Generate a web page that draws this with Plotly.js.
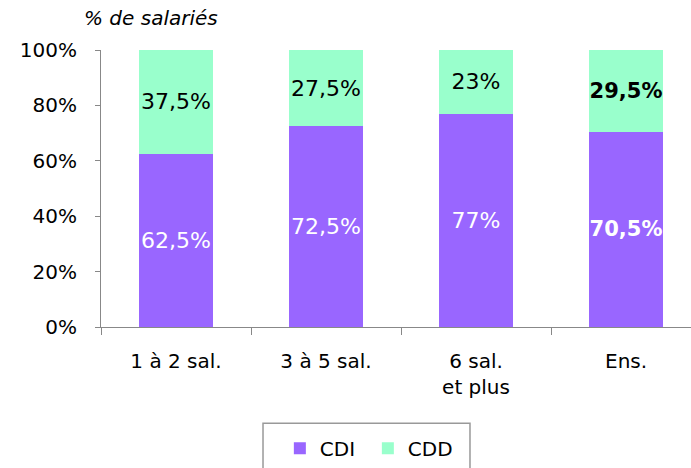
<!DOCTYPE html>
<html><head><meta charset="utf-8">
<script src="https://cdn.plot.ly/plotly-3.0.1.min.js"></script>
<style>body{margin:0;background:#fff}#c{width:691px;height:468px}</style>
</head><body><div id="c"></div>
<script>
var categories = ['1 à 2 sal.', '3 à 5 sal.', '6 sal.<br>et plus', 'Ens.'];
var cdi = [62.5, 72.5, 77, 70.5];
var cdd = [37.5, 27.5, 23, 29.5];
var boldIndex = 3;

function labels(vals){
  return vals.map(function(v,i){
    var s = String(v).replace('.', ',') + '%';
    return i === boldIndex ? '<b>' + s + '</b>' : s;
  });
}
var FONT = '"DejaVu Sans", sans-serif';
var labelSizes = [22, 22, 22, 21];
var traces = [
  {type:'bar', name:'CDI', x:categories, y:cdi, text:labels(cdi), textposition:'inside',
   insidetextanchor:'middle', constraintext:'none', textangle:0,
   textfont:{family:FONT, size:labelSizes, color:'#ffffff'}, marker:{color:'#9966FF'}, width:0.493,
   hoverinfo:'skip'},
  {type:'bar', name:'CDD', x:categories, y:cdd, text:labels(cdd), textposition:'inside',
   insidetextanchor:'middle', constraintext:'none', textangle:0,
   textfont:{family:FONT, size:labelSizes, color:'#000000'}, marker:{color:'#99FFCC'}, width:0.493,
   hoverinfo:'skip'}
];
var layout = {
  width:691, height:468, barmode:'stack',
  margin:{l:101, r:0, t:50, b:140.5},
  paper_bgcolor:'#fff', plot_bgcolor:'#fff',
  font:{family:FONT, size:20, color:'#000'},
  xaxis:{type:'category', range:[-0.5, 3.433], showgrid:false, showline:true, linecolor:'#888', linewidth:1,
    ticks:'outside', tickson:'boundaries', ticklen:7, tickcolor:'#888', tickfont:{size:20},
    ticklabelstandoff:16, zeroline:false},
  yaxis:{range:[0,100], dtick:20, ticksuffix:'%', showgrid:false, showline:true, linecolor:'#888', linewidth:1,
    ticks:'outside', ticklen:5, tickcolor:'#888', tickfont:{size:20}, ticklabelstandoff:14, zeroline:false},
  showlegend:true,
  legend:{orientation:'h', traceorder:'normal', xref:'container', yref:'container', x:0.405, xanchor:'left',
    y:0.0837, yanchor:'top', borderwidth:0, bgcolor:'rgba(0,0,0,0)', font:{size:20}, itemwidth:30,
    entrywidth:43, entrywidthmode:'pixels'},
  shapes:[{type:'rect', xref:'paper', yref:'paper', x0:0.2746, x1:0.6254, y0:-0.3477, y1:-0.55,
    line:{color:'#999', width:1.5}, fillcolor:'rgba(0,0,0,0)', layer:'below'}],
  annotations:[{text:'<i>% de salariés</i>', xref:'paper', yref:'paper', x:-0.032, y:1.065, xanchor:'left',
    yanchor:'bottom', showarrow:false, font:{size:20}}]
};
Plotly.newPlot('c', traces, layout, {displayModeBar:false, staticPlot:true});
</script></body></html>
